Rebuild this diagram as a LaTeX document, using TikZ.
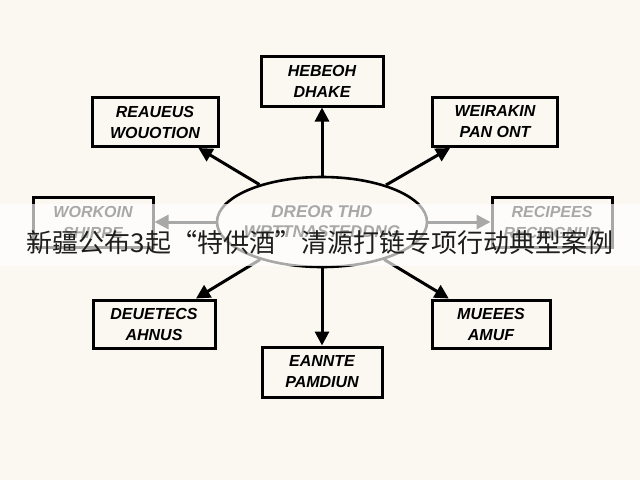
\documentclass[tikz,border=0pt]{standalone}
\usepackage{fontspec}
\setmainfont{Liberation Sans}
\newfontfamily\cjk{Noto Sans CJK SC}
\usetikzlibrary{arrows.meta,shapes.geometric}
\definecolor{bg}{RGB}{250,248,241}
\definecolor{captxt}{RGB}{30,30,30}
\begin{document}
\begin{tikzpicture}[x=1pt,y=-1pt,
  box/.style={draw=black, line width=3pt, fill=bg, inner sep=0pt, align=center,
    font=\bfseries\itshape\fontsize{16}{21}\selectfont},
  hub/.style={draw=black, line width=2.6pt, ellipse, inner xsep=-14pt, inner ysep=-4pt, align=center,
    minimum width=210pt, minimum height=90pt,
    font=\bfseries\itshape\fontsize{17}{20}\selectfont},
  arr/.style={line width=3pt, -{Triangle[length=14pt,width=14pt]}},
  band/.style={fill=white, fill opacity=0.66, draw=none},
  caption/.style={font=\cjk\fontsize{26}{26}\selectfont, text=captxt, inner sep=0pt}]
\fill[bg] (0,0) rectangle (640,480);
\useasboundingbox (0,0) rectangle (640,480);

\node[hub] (c) at (322,222) {DREOR THD\\WRTTNASTEDDNG};

\node[box, minimum width=122pt, minimum height=50pt] (t)  at (322,81)  {HEBEOH\\DHAKE};
\node[box, minimum width=126pt, minimum height=49pt] (tl) at (155,122) {REAUEUS\\WOUOTION};
\node[box, minimum width=125pt, minimum height=49pt] (tr) at (495,122) {WEIRAKIN\\PAN ONT};
\node[box, minimum width=120pt, minimum height=50pt] (l)  at (93,222)  {WORKOIN\\SHIRPE};
\node[box, minimum width=120pt, minimum height=50pt] (r)  at (552,222) {RECIPEES\\RECIRGNUR};
\node[box, minimum width=122pt, minimum height=48pt] (bl) at (154,324) {DEUETECS\\AHNUS};
\node[box, minimum width=118pt, minimum height=48pt] (br) at (491,324) {MUEEES\\AMUF};
\node[box, minimum width=120pt, minimum height=50pt] (b)  at (322,372) {EANNTE\\PAMDIUN};

\draw[arr] (c) -- (t);
\draw[arr] (c) -- (tl);
\draw[arr] (c) -- (tr);
\draw[arr] (c) -- (l);
\draw[arr] (c) -- (r);
\draw[arr] (c) -- (bl);
\draw[arr] (c) -- (br);
\draw[arr] (c) -- (b);

\fill[band] (0,204) rectangle (640,266);
\node[caption] (cap) at (320,243) {新疆公布3起“特供酒”清源打链专项行动典型案例};
\end{tikzpicture}
\end{document}
